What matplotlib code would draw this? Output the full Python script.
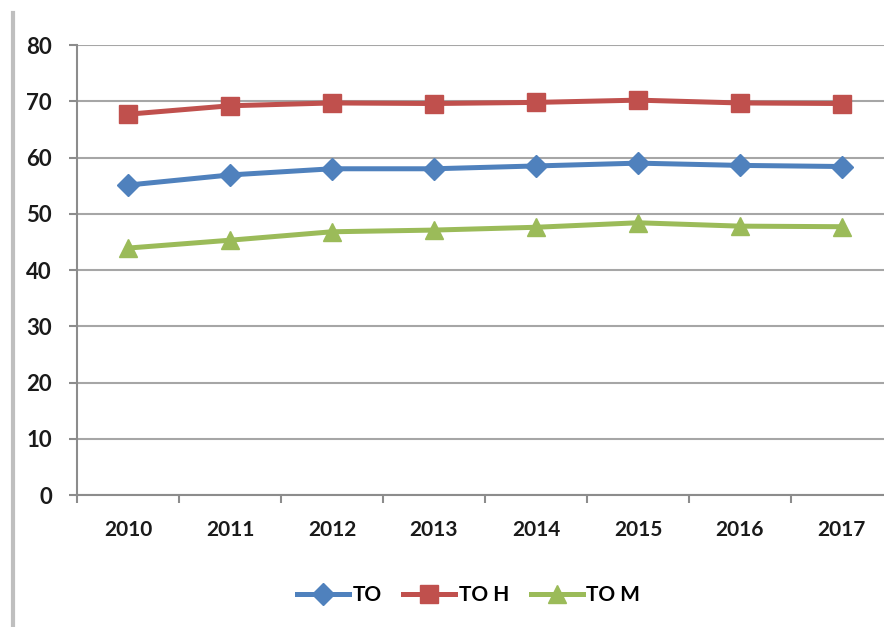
"""TO / TO H / TO M by year, line chart."""

import matplotlib.pyplot as plt
from matplotlib.lines import Line2D

YEARS: list[str] = ["2010", "2011", "2012", "2013", "2014", "2015", "2016", "2017"]
TO: list[float] = [55.1, 56.9, 58.0, 58.0, 58.5, 59.0, 58.6, 58.4]
TO_H: list[float] = [67.7, 69.2, 69.7, 69.6, 69.8, 70.2, 69.7, 69.6]
TO_M: list[float] = [43.9, 45.3, 46.8, 47.1, 47.6, 48.4, 47.8, 47.7]

SERIES = [
    ("TO", TO, "#4F81BD", "D", 11),
    ("TO H", TO_H, "#C0504D", "s", 13),
    ("TO M", TO_M, "#9BBB59", "^", 13),
]

plt.rcParams["font.family"] = ["Lato", "DejaVu Sans"]

fig = plt.figure(figsize=(8.84, 6.27), dpi=100)
ax = fig.add_axes([0.0871, 0.2105, 0.923, 0.7177])

x = list(range(len(YEARS)))
for label, values, color, marker, size in SERIES:
    ax.plot(x, values, color=color, linewidth=3.6, marker=marker, markersize=size, label=label)

ax.set_xlim(-0.5, len(YEARS) - 0.5)
ax.set_ylim(0, 80)
ax.set_yticks(range(0, 81, 10))
ax.set_xticks(x)
ax.set_xticklabels(YEARS)
ax.set_xticks([i - 0.5 for i in range(len(YEARS) + 1)], minor=True)
ax.tick_params(axis="x", which="major", length=0, pad=18)
ax.tick_params(axis="x", which="minor", length=6, width=1.5, color="#8c8c8c")
ax.tick_params(axis="y", length=6, width=1.5, color="#8c8c8c", pad=12)
for lab in ax.get_xticklabels():
    lab.set_fontsize(15)
    lab.set_fontweight("bold")
    lab.set_color("#1a1a1a")
for lab in ax.get_yticklabels():
    lab.set_fontsize(16)
    lab.set_fontweight("bold")
    lab.set_color("#1a1a1a")

ax.grid(axis="y", color="#a6a6a6", linewidth=1.5)
ax.set_axisbelow(True)
for side in ["top", "right"]:
    ax.spines[side].set_visible(False)
for side in ["left", "bottom"]:
    ax.spines[side].set_color("#8c8c8c")
    ax.spines[side].set_linewidth(1.5)

leg = fig.legend(
    loc="center",
    bbox_to_anchor=(0.53, 0.051),
    ncol=3,
    frameon=False,
    handlelength=2.5,
    columnspacing=1.05,
    handletextpad=0.15,
    prop={"family": "Lato", "weight": "bold", "size": 15},
)

# chart border on the left edge
fig.add_artist(Line2D([0.0147, 0.0147], [0.0, 0.98], color="#bfbfbf", linewidth=3))

fig.savefig("out.png", dpi=100)
